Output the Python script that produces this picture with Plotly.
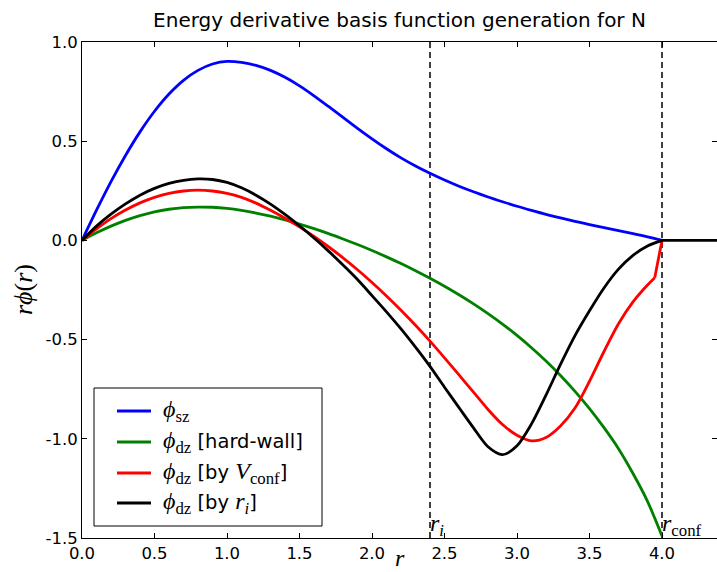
import plotly.graph_objects as go

# ---------------- data ----------------
r_sz = [0.0, 0.1, 0.2, 0.3, 0.4, 0.5, 0.6, 0.7, 0.8, 0.9, 1.0, 1.1, 1.2, 1.3, 1.4,
        1.5, 1.6, 1.7, 1.8, 1.9, 2.0, 2.1, 2.2, 2.3, 2.4, 2.5, 2.6, 2.7, 2.8, 2.9,
        3.0, 3.1, 3.2, 3.3, 3.4, 3.5, 3.6, 3.7, 3.8, 3.9, 4.0]
phi_sz = [0.0, 0.152, 0.296, 0.428, 0.547, 0.651, 0.738, 0.807, 0.857, 0.889, 0.902,
          0.897, 0.882, 0.857, 0.822, 0.779, 0.729, 0.675, 0.620, 0.565, 0.512, 0.462,
          0.416, 0.375, 0.338, 0.304, 0.273, 0.245, 0.219, 0.195, 0.172, 0.151, 0.131,
          0.113, 0.096, 0.080, 0.064, 0.049, 0.034, 0.018, 0.0]

r_hw = [0.0, 0.1, 0.2, 0.3, 0.4, 0.5, 0.6, 0.7, 0.8, 0.9, 1.0, 1.1, 1.2, 1.3, 1.4, 1.5,
        1.6, 1.7, 1.8, 1.9, 2.0, 2.1, 2.2, 2.3, 2.4, 2.5, 2.6, 2.7, 2.8, 2.9, 3.0, 3.1,
        3.2, 3.3, 3.4, 3.5, 3.6, 3.7, 3.8, 3.9, 4.0]
phi_hw = [0.0, 0.038, 0.072, 0.101, 0.125, 0.144, 0.157, 0.165, 0.168, 0.167, 0.161,
          0.151, 0.138, 0.122, 0.103, 0.082, 0.059, 0.034, 0.007, -0.021, -0.051,
          -0.083, -0.117, -0.153, -0.191, -0.231, -0.274, -0.320, -0.369, -0.422,
          -0.479, -0.541, -0.608, -0.681, -0.761, -0.848, -0.944, -1.050, -1.175,
          -1.315, -1.490]

r_vc = [0.0, 0.1, 0.2, 0.3, 0.4, 0.5, 0.6, 0.7, 0.8, 0.9, 1.0, 1.1, 1.2, 1.3, 1.4, 1.5,
        1.6, 1.7, 1.8, 1.9, 2.0, 2.1, 2.2, 2.3, 2.4, 2.5, 2.6, 2.7, 2.8, 2.9, 3.0, 3.1,
        3.2, 3.3, 3.4, 3.5, 3.6, 3.7, 3.8, 3.9, 3.95]
phi_vc = [0.0, 0.058, 0.110, 0.153, 0.189, 0.217, 0.237, 0.249, 0.253, 0.249, 0.237,
          0.217, 0.188, 0.152, 0.112, 0.068, 0.020, -0.032, -0.088, -0.148, -0.212,
          -0.280, -0.352, -0.428, -0.508, -0.592, -0.678, -0.765, -0.852, -0.928,
          -0.982, -1.010, -0.993, -0.935, -0.845, -0.710, -0.560, -0.420, -0.310,
          -0.225, -0.188]
r_vc_end = [3.95, 4.0]
phi_vc_end = [-0.188, 0.0]

r_ri = [0.0, 0.1, 0.2, 0.3, 0.4, 0.5, 0.6, 0.7, 0.8, 0.9, 1.0, 1.1, 1.2, 1.3, 1.4, 1.5,
        1.6, 1.7, 1.8, 1.9, 2.0, 2.1, 2.2, 2.3, 2.4, 2.5, 2.6, 2.7, 2.8, 2.9, 3.0, 3.1,
        3.2, 3.3, 3.4, 3.5, 3.6, 3.7, 3.8, 3.9, 4.0]
phi_ri = [0.0, 0.072, 0.132, 0.184, 0.228, 0.262, 0.287, 0.303, 0.310, 0.307, 0.292,
          0.265, 0.228, 0.183, 0.131, 0.074, 0.012, -0.054, -0.124, -0.197, -0.278,
          -0.360, -0.446, -0.538, -0.635, -0.740, -0.843, -0.945, -1.040, -1.080,
          -1.035, -0.925, -0.780, -0.625, -0.480, -0.355, -0.240, -0.145, -0.075,
          -0.028, 0.0]

r_tail = [4.0, 4.4]
phi_tail = [0.0, 0.0]

r_i = 2.4
r_conf = 4.0

x_ticks = [0.0, 0.5, 1.0, 1.5, 2.0, 2.5, 3.0, 3.5, 4.0]
x_labels = ["0.0", "0.5", "1.0", "1.5", "2.0", "2.5", "3.0", "3.5", "4.0"]
y_ticks = [-1.5, -1.0, -0.5, 0.0, 0.5, 1.0]
y_labels = ["-1.5", "-1.0", "-0.5", "0.0", "0.5", "1.0"]

colors = ["#0000ff", "#008000", "#ff0000", "#000000"]

# ---------------- figure ----------------
SERIF = "Liberation Serif"
def m(s, size=24):
    return '<span style="font-family:%s;font-size:%dpx">%s</span>' % (SERIF, size, s)

phi = "<i>ϕ</i>"
names = [
    m(phi + "<sub>sz</sub>"),
    m(phi + "<sub>dz</sub>") + " [hard-wall]",
    m(phi + "<sub>dz</sub>") + " [by " + m("<i>V</i><sub>conf</sub>") + "]",
    m(phi + "<sub>dz</sub>") + " [by " + m("<i>r</i><sub><i>i</i></sub>") + "]",
]

W = 2.8
fig = go.Figure()
fig.add_trace(go.Scatter(x=r_sz, y=phi_sz, mode="lines", name=names[0],
                         line=dict(color=colors[0], width=W, shape="spline", smoothing=0.8)))
fig.add_trace(go.Scatter(x=r_hw, y=phi_hw, mode="lines", name=names[1],
                         line=dict(color=colors[1], width=W, shape="spline", smoothing=0.8)))
fig.add_trace(go.Scatter(x=r_vc, y=phi_vc, mode="lines", name=names[2],
                         line=dict(color=colors[2], width=W, shape="spline", smoothing=0.8)))
fig.add_trace(go.Scatter(x=r_vc_end, y=phi_vc_end, mode="lines",
                         line=dict(color=colors[2], width=W)))
fig.add_trace(go.Scatter(x=r_ri, y=phi_ri, mode="lines", name=names[3],
                         line=dict(color=colors[3], width=W, shape="spline", smoothing=0.8)))
fig.add_trace(go.Scatter(x=r_tail, y=phi_tail, mode="lines",
                         line=dict(color=colors[3], width=W)))

for xv in (r_i, r_conf):
    fig.add_shape(type="line", xref="x", yref="paper", x0=xv, x1=xv, y0=0, y1=1,
                  line=dict(color="black", width=1.5, dash="6px,4px"), layer="below")

fig.add_annotation(x=r_i, y=-1.5, xref="x", yref="y", xanchor="left", yanchor="bottom",
                   showarrow=False, text="<i>r</i><sub><i>i</i></sub>",
                   font=dict(family=SERIF, size=24, color="black"), xshift=-2, yshift=-4)
fig.add_annotation(x=r_conf, y=-1.5, xref="x", yref="y", xanchor="left", yanchor="bottom",
                   showarrow=False, text="<i>r</i><sub>conf</sub>",
                   font=dict(family=SERIF, size=24, color="black"), xshift=-2, yshift=-4)

# axis labels
PW, PH = 635.0, 496.0
fig.add_annotation(x=0.5, y=(538 - 572) / PH, xref="paper", yref="paper", showarrow=False,
                   xanchor="center", yanchor="bottom", yshift=-1,
                   text="<i>r</i>", font=dict(family=SERIF, size=24, color="black"))
fig.add_annotation(x=(23 - 82) / PW, y=0.5, xref="paper", yref="paper", showarrow=False,
                   xanchor="center", yanchor="middle",
                   text="<i>rϕ</i>(<i>r</i>)", textangle=-90,
                   font=dict(family=SERIF, size=26, color="black"))

# legend (box, sample lines, labels) positioned as in the reference
def px_x(p):
    return (p - 82) / PW
def px_y(p):
    return (538 - p) / PH

fig.add_shape(type="rect", xref="paper", yref="paper",
              x0=px_x(94), x1=px_x(322), y0=px_y(526), y1=px_y(388),
              line=dict(color="black", width=1), fillcolor="white", layer="above")
row_y = [411, 442, 473, 503]
for c, yy, nm in zip(colors, row_y, names):
    fig.add_shape(type="line", xref="paper", yref="paper",
                  x0=px_x(117), x1=px_x(151), y0=px_y(yy), y1=px_y(yy),
                  line=dict(color=c, width=W), layer="above")
    fig.add_annotation(x=px_x(161), y=px_y(yy), xref="paper", yref="paper",
                       xanchor="left", yanchor="middle", showarrow=False, text=nm,
                       font=dict(family="DejaVu Sans", size=19.5, color="black"))

axis_common = dict(showgrid=False, zeroline=False, showline=True, linecolor="black",
                   linewidth=1, mirror="ticks", ticks="inside", ticklen=5, tickwidth=1,
                   tickcolor="black",
                   tickfont=dict(family="DejaVu Sans", size=16.5, color="black"))

fig.update_layout(
    width=717, height=572,
    margin=dict(l=82, r=0, t=42, b=34),
    paper_bgcolor="white", plot_bgcolor="white",
    title=dict(text="Energy derivative basis function generation for N",
               x=0.5, xref="paper", xanchor="center", y=1 - 20 / 572, yanchor="middle",
               font=dict(family="DejaVu Sans", size=20, color="black")),
    xaxis=dict(range=[0, PW / 145], tickvals=x_ticks, ticktext=x_labels, **axis_common),
    yaxis=dict(range=[-1.5, 1.0], tickvals=y_ticks, ticktext=y_labels, **axis_common),
    showlegend=False,
)

fig.write_html("out.html")
